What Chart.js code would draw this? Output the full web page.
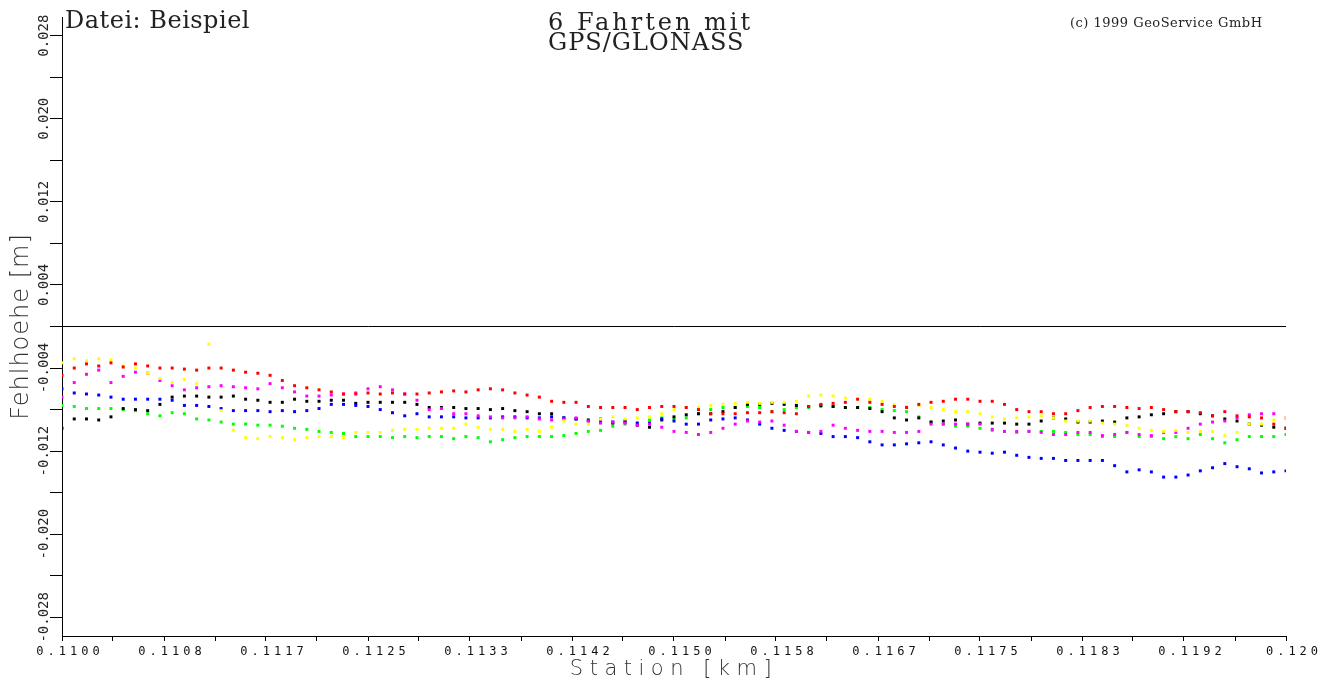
<!DOCTYPE html>
<html>
<head>
<meta charset="utf-8">
<title>6 Fahrten mit GPS/GLONASS</title>
<script src="https://cdn.jsdelivr.net/npm/chart.js@4"></script>
<style>
  html, body { margin: 0; padding: 0; background: #fff; }
  #wrap { width: 1332px; height: 688px; }
</style>
</head>
<body>
<div id="wrap"><canvas id="profilChart"></canvas></div>
<script>
// Station [km] der Messpunkte
var stations = [
    0.1100, 0.1101, 0.1102, 0.1103, 0.1104, 0.1105, 0.1106, 0.1107, 0.1108, 0.1109,
    0.1110, 0.1111, 0.1112, 0.1113, 0.1114, 0.1115, 0.1116, 0.1117, 0.1118, 0.1119,
    0.1120, 0.1121, 0.1122, 0.1123, 0.1124, 0.1125, 0.1126, 0.1127, 0.1128, 0.1129,
    0.1130, 0.1131, 0.1132, 0.1133, 0.1134, 0.1135, 0.1136, 0.1137, 0.1138, 0.1139,
    0.1140, 0.1141, 0.1142, 0.1143, 0.1144, 0.1145, 0.1146, 0.1147, 0.1148, 0.1149,
    0.1150, 0.1151, 0.1152, 0.1153, 0.1154, 0.1155, 0.1156, 0.1157, 0.1158, 0.1159,
    0.1160, 0.1161, 0.1162, 0.1163, 0.1164, 0.1165, 0.1166, 0.1167, 0.1168, 0.1169,
    0.1170, 0.1171, 0.1172, 0.1173, 0.1174, 0.1175, 0.1176, 0.1177, 0.1178, 0.1179,
    0.1180, 0.1181, 0.1182, 0.1183, 0.1184, 0.1185, 0.1186, 0.1187, 0.1188, 0.1189,
    0.1190, 0.1191, 0.1192, 0.1193, 0.1194, 0.1195, 0.1196, 0.1197, 0.1198, 0.1199,
    0.1200
];

// Fehlhoehe je Fahrt, in mm
var fahrtRot = [
    -4.7, -4.0, -3.6, -3.8, -3.5, -3.9, -3.6, -3.8, -4.0, -4.0,
    -4.1, -4.2, -4.0, -4.0, -4.2, -4.4, -4.5, -4.7, -5.2, -5.7,
    -5.9, -6.1, -6.3, -6.5, -6.5, -6.4, -6.5, -6.4, -6.5, -6.5,
    -6.4, -6.3, -6.2, -6.3, -6.1, -6.0, -6.1, -6.4, -6.6, -6.8,
    -7.2, -7.3, -7.3, -7.7, -7.8, -7.8, -7.8, -8.0, -7.8, -7.7,
    -7.7, -7.8, -8.0, -8.4, -8.4, -8.4, -8.3, -8.3, -8.2, -8.3,
    -8.4, -7.7, -7.5, -7.4, -7.3, -7.0, -7.3, -7.5, -7.7, -7.8,
    -7.5, -7.3, -7.2, -7.0, -7.0, -7.2, -7.2, -7.5, -8.0, -8.2,
    -8.2, -8.4, -8.4, -8.1, -7.8, -7.7, -7.7, -7.8, -7.9, -7.8,
    -8.0, -8.2, -8.2, -8.3, -8.6, -8.2, -8.6, -8.7, -8.8, -9.4,
    -9.8
];
var fahrtGelb = [
    -3.5, -3.1, -3.3, -3.1, -3.2, -3.8, -4.0, -4.5, -5.0, -5.4,
    -5.1, -5.5, -1.7, -8.1, -10.0, -10.7, -10.8, -10.6, -10.7, -10.9,
    -10.7, -10.6, -10.6, -10.7, -10.2, -10.2, -10.2, -10.0, -9.9, -9.9,
    -9.8, -9.8, -9.8, -9.4, -9.7, -9.9, -9.9, -10.1, -9.9, -10.1,
    -9.7, -9.1, -9.4, -9.4, -8.9, -8.7, -8.9, -8.8, -8.7, -8.4,
    -8.0, -7.8, -7.8, -7.6, -7.5, -7.4, -7.3, -7.4, -7.3, -7.3,
    -7.2, -6.7, -6.6, -6.7, -6.9, -7.0, -7.0, -7.2, -7.5, -7.7,
    -7.6, -7.8, -8.0, -8.2, -8.2, -8.4, -8.7, -8.9, -8.8, -8.7,
    -8.6, -8.8, -9.1, -9.1, -9.1, -9.3, -9.4, -9.5, -9.8, -10.0,
    -10.1, -10.0, -10.2, -10.1, -10.1, -10.5, -10.2, -9.4, -9.4, -9.0,
    -8.8
];
var fahrtMagenta = [
    -6.8, -5.4, -4.6, -4.2, -5.4, -4.8, -4.4, -4.5, -5.2, -5.7,
    -6.1, -5.9, -5.8, -5.7, -5.8, -5.9, -6.0, -5.5, -5.9, -6.3,
    -6.7, -6.7, -6.6, -6.5, -6.4, -6.0, -5.8, -6.1, -6.5, -7.1,
    -8.0, -7.9, -8.4, -8.4, -8.6, -8.7, -8.8, -8.8, -8.7, -8.9,
    -9.0, -8.9, -8.8, -9.1, -9.3, -9.2, -9.3, -9.5, -9.4, -9.7,
    -10.1, -10.2, -10.4, -10.2, -9.8, -9.4, -9.1, -9.2, -9.1, -9.5,
    -10.1, -10.2, -10.1, -9.5, -9.8, -10.0, -10.1, -10.1, -10.2, -10.2,
    -10.1, -9.4, -9.4, -9.4, -9.4, -9.4, -9.9, -10.1, -10.1, -10.1,
    -10.2, -10.4, -10.4, -10.2, -10.2, -10.5, -10.4, -10.2, -10.4, -10.5,
    -10.2, -10.2, -9.8, -9.4, -9.2, -9.1, -8.8, -8.5, -8.4, -8.4,
    -8.8
];
var fahrtBlau = [
    -6.0, -6.4, -6.5, -6.6, -6.8, -7.0, -7.0, -7.0, -7.0, -7.1,
    -7.6, -7.6, -7.7, -7.9, -8.1, -8.1, -8.1, -8.2, -8.1, -8.2,
    -8.1, -7.9, -7.5, -7.5, -7.6, -7.7, -8.0, -8.3, -8.6, -8.4,
    -8.7, -8.7, -8.7, -8.8, -8.8, -8.8, -8.7, -8.7, -8.8, -8.8,
    -8.7, -8.8, -8.9, -9.1, -9.2, -9.2, -9.2, -9.3, -9.3, -8.9,
    -9.1, -9.4, -9.4, -9.0, -8.9, -8.8, -9.0, -9.4, -9.8, -10.0,
    -10.1, -10.2, -10.3, -10.6, -10.6, -10.7, -11.1, -11.4, -11.4, -11.3,
    -11.2, -11.1, -11.4, -11.7, -12.0, -12.1, -12.2, -12.1, -12.4, -12.6,
    -12.7, -12.7, -12.9, -12.9, -12.9, -12.9, -13.4, -14.0, -13.8, -14.0,
    -14.5, -14.5, -14.3, -13.9, -13.6, -13.2, -13.5, -13.7, -14.1, -14.0,
    -13.9
];
var fahrtSchwarz = [
    -9.8, -8.9, -8.9, -9.0, -8.7, -7.9, -8.0, -8.1, -7.5, -6.8,
    -6.7, -6.7, -6.8, -6.8, -6.7, -7.0, -7.1, -7.3, -7.3, -7.0,
    -7.2, -7.2, -7.1, -7.1, -7.4, -7.3, -7.3, -7.3, -7.3, -7.5,
    -7.8, -7.8, -7.8, -7.9, -7.9, -8.0, -7.9, -8.1, -8.2, -8.4,
    -8.4, -8.8, -8.9, -9.0, -8.9, -9.3, -9.1, -9.5, -9.7, -9.0,
    -8.7, -8.5, -8.4, -8.4, -8.2, -7.8, -7.5, -7.5, -7.4, -7.5,
    -7.6, -7.7, -7.6, -7.7, -7.8, -7.8, -7.9, -8.2, -8.8, -9.0,
    -8.8, -9.2, -9.1, -9.0, -9.4, -9.3, -9.3, -9.3, -9.4, -9.4,
    -9.1, -8.8, -8.9, -9.2, -9.2, -9.1, -9.2, -8.8, -8.7, -8.5,
    -8.4, -8.2, -8.2, -8.4, -8.6, -8.9, -9.1, -9.4, -9.5, -9.7,
    -9.8
];
var fahrtGruen = [
    -7.6, -7.7, -7.9, -7.9, -7.9, -8.0, -8.1, -8.4, -8.6, -8.3,
    -8.4, -8.9, -9.0, -9.2, -9.4, -9.4, -9.5, -9.5, -9.6, -9.8,
    -9.9, -10.1, -10.2, -10.3, -10.6, -10.6, -10.6, -10.7, -10.6, -10.7,
    -10.6, -10.6, -10.8, -10.6, -10.7, -11.1, -10.9, -10.7, -10.6, -10.6,
    -10.6, -10.5, -10.3, -10.1, -10.0, -9.6, -9.4, -9.3, -9.0, -8.8,
    -8.9, -8.8, -8.4, -8.0, -7.8, -7.8, -7.7, -7.8, -8.2, -8.0,
    -7.8, -7.8, -7.7, -7.7, -7.8, -7.8, -7.8, -8.0, -8.1, -8.2,
    -8.7, -9.2, -9.4, -9.6, -9.6, -9.8, -10.0, -10.1, -10.2, -10.1,
    -10.1, -10.1, -10.2, -10.4, -10.4, -10.6, -10.6, -10.2, -10.6, -10.6,
    -10.8, -10.6, -10.8, -10.4, -10.8, -11.2, -10.9, -10.6, -10.6, -10.6,
    -10.4
];

// Achsbeschriftung
var xTickLabels = ['0.1100', '0.1108', '0.1117', '0.1125', '0.1133', '0.1142', '0.1150',
                   '0.1158', '0.1167', '0.1175', '0.1183', '0.1192', '0.120'];
var xTickCount = 24;
var yTickValues = [-0.028, -0.024, -0.020, -0.016, -0.012, -0.008, -0.004, 0,
                   0.004, 0.008, 0.012, 0.016, 0.020, 0.024, 0.028];
var yTickLabels = ['-0.028', '-0.020', '-0.012', '-0.004', '0.004', '0.012', '0.020', '0.028'];

document.addEventListener('DOMContentLoaded', function () {

    function toPoints(values) {
        return values.map(function (v, i) {
            return { x: stations[i], y: v / 1000 };
        });
    }

    function fahrt(label, values, color) {
        return {
            label: label,
            data: toPoints(values),
            showLine: false,
            pointStyle: 'rect',
            pointRadius: 2.1,
            pointBorderWidth: 0,
            backgroundColor: color,
            borderColor: color
        };
    }

    // letter spacing for a scale's draw step (Chart.js has no option for it)
    function spaced(scale, name, ls) {
        if (scale['_sp_' + name]) return;
        var orig = scale[name];
        scale['_sp_' + name] = true;
        scale[name] = function () {
            var c = this.ctx;
            c.save();
            c.letterSpacing = ls;
            orig.apply(this, arguments);
            c.restore();
        };
    }

    var letterSpacing = {
        id: 'letterSpacing',
        beforeDraw: function (chart) {
            spaced(chart.scales.x, 'drawLabels', '4px');
            spaced(chart.scales.x, 'drawTitle', '6.5px');
            spaced(chart.scales.y, 'drawTitle', '1px');
        }
    };

    function headText(c, text, x, y, font, ls) {
        c.font = font;
        c.letterSpacing = ls;
        c.fillText(text, x, y);
    }

    var kopfTexte = {
        id: 'kopfTexte',
        afterDraw: function (chart) {
            var c = chart.ctx;
            c.save();
            c.fillStyle = '#222';
            c.textAlign = 'left';
            c.textBaseline = 'alphabetic';
            headText(c, 'Datei: Beispiel', 65, 28, '24px "DejaVu Serif"', '0.5px');
            headText(c, '6 Fahrten mit', 548, 30, '24px "DejaVu Serif"', '3px');
            headText(c, 'GPS/GLONASS', 548, 50, '24px "DejaVu Serif"', '1px');
            headText(c, '(c) 1999 GeoService GmbH', 1070, 27, '13px "DejaVu Serif"', '0.5px');
            c.restore();
        }
    };

    var profilCtx = document.getElementById('profilChart').getContext('2d');
    var profilChart = new Chart(profilCtx, {
        type: 'scatter',
        data: {
            datasets: [
                fahrt('Fahrt 1', fahrtRot, '#ff0000'),
                fahrt('Fahrt 2', fahrtGelb, '#ffff00'),
                fahrt('Fahrt 3', fahrtMagenta, '#ff00ff'),
                fahrt('Fahrt 4', fahrtBlau, '#0000ff'),
                fahrt('Fahrt 5', fahrtSchwarz, '#000000'),
                fahrt('Fahrt 6', fahrtGruen, '#00ff00')
            ]
        },
        options: {
            responsive: true,
            maintainAspectRatio: false,
            animation: false,
            events: [],
            layout: { padding: { top: 17, right: 46, bottom: 0, left: 0 } },
            plugins: {
                legend: { display: false },
                tooltip: { enabled: false }
            },
            scales: {
                x: {
                    type: 'linear',
                    min: 0.11,
                    max: 0.12,
                    afterBuildTicks: function (scale) {
                        var ticks = [];
                        for (var k = 0; k <= xTickCount; k++) {
                            ticks.push({ value: scale.min + (scale.max - scale.min) * k / xTickCount });
                        }
                        scale.ticks = ticks;
                    },
                    afterFit: function (scale) { scale.height = 52; },
                    grid: { drawOnChartArea: false, tickLength: 5, tickColor: '#000', color: '#000' },
                    border: { display: true, color: '#000', width: 1 },
                    ticks: {
                        autoSkip: false,
                        maxRotation: 0,
                        padding: 4,
                        labelOffset: 8,
                        color: '#111',
                        font: { family: 'DejaVu Sans Mono', size: 12 },
                        callback: function (v, i) { return i % 2 === 0 ? xTickLabels[i / 2] : ''; }
                    },
                    title: {
                        display: true,
                        text: 'Station [km]',
                        color: '#333',
                        font: { family: 'DejaVu Sans', size: 21, weight: '300' },
                        padding: { top: 0, bottom: 6 }
                    }
                },
                y: {
                    type: 'linear',
                    min: -0.0298,
                    max: 0.0298,
                    afterBuildTicks: function (scale) {
                        scale.ticks = yTickValues.map(function (v) { return { value: v }; });
                    },
                    afterFit: function (scale) { scale.width = 62; },
                    grid: {
                        tickLength: 12,
                        tickColor: '#000',
                        lineWidth: 1,
                        color: function (c) {
                            return c.tick && c.tick.value === 0 ? '#000' : 'rgba(0,0,0,0)';
                        }
                    },
                    border: { display: true, color: '#000', width: 1 },
                    ticks: {
                        autoSkip: false,
                        minRotation: 90,
                        maxRotation: 90,
                        crossAlign: 'center',
                        padding: -20,
                        color: '#222',
                        font: { family: 'DejaVu Sans Mono', size: 14 },
                        callback: function (v) {
                            var hit = yTickLabels.filter(function (t) {
                                return Math.abs(parseFloat(t) - v) < 1e-9;
                            });
                            return hit.length ? hit[0] : '';
                        }
                    },
                    title: {
                        display: true,
                        text: 'Fehlhoehe [m]',
                        color: '#333',
                        font: { family: 'DejaVu Sans', size: 24, weight: '200' },
                        padding: { top: 7, bottom: 0 }
                    }
                }
            }
        },
        plugins: [letterSpacing, kopfTexte]
    });
});
</script>
</body>
</html>
